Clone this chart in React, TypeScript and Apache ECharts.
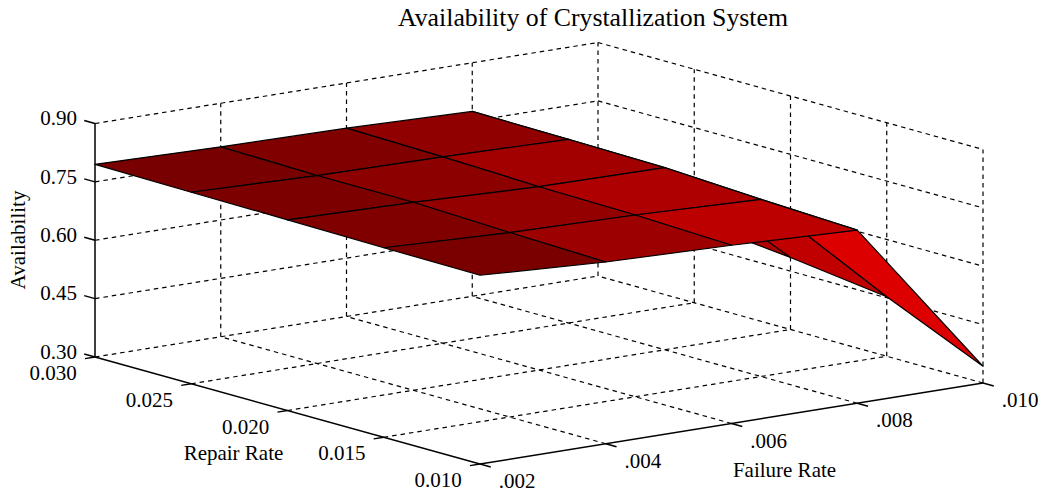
import React, { useEffect, useRef } from "react";
import * as echarts from "echarts";

const titleText = "Availability of Crystallization System";
const failureTicks = [0.002, 0.004, 0.006, 0.008, 0.01];
const repairTicks = [0.01, 0.015, 0.02, 0.025, 0.03];
const availabilityTicks = [0.3, 0.45, 0.6, 0.75, 0.9];
const failureLabels = [".002", ".004", ".006", ".008", ".010"];
const repairLabels = ["0.010", "0.015", "0.020", "0.025", "0.030"];
const availabilityLabels = ["0.30", "0.45", "0.60", "0.75", "0.90"];

// availability[repair index][failure index]
const availR010 = [0.785, 0.767, 0.758, 0.745, 0.343];
const availR015 = [0.787, 0.774, 0.767, 0.755, 0.453];
const availR020 = [0.79, 0.783, 0.771, 0.768, 0.485];
const availR025 = [0.792, 0.783, 0.779, 0.772, 0.51];
const availR030 = [0.795, 0.788, 0.784, 0.775, 0.525];
const availability = [availR010, availR015, availR020, availR025, availR030];

// facet colours, same indexing (lower-left node of the facet)
const shadeR010 = ["#7a0000", "#9c0000", "#bc0000", "#dc0000"];
const shadeR015 = ["#800000", "#940000", "#ae0000", "#c00000"];
const shadeR020 = ["#7c0000", "#8c0000", "#a20000", "#b00000"];
const shadeR025 = ["#780000", "#800000", "#900000", "#a00000"];
const shades = [shadeR010, shadeR015, shadeR020, shadeR025];

const ORIGIN = [480, 464];
const U_AXIS = [503, -81];
const V_AXIS = [-385, -107];
const Z_HEIGHT = 233.5;
const FONT = "'Liberation Serif', 'Times New Roman', serif";

const span = (a: number[]) => a[a.length - 1] - a[0];
const project = (f: number, r: number, z: number) => {
  const u = (f - failureTicks[0]) / span(failureTicks);
  const v = (r - repairTicks[0]) / span(repairTicks);
  const w = (z - availabilityTicks[0]) / span(availabilityTicks);
  return [
    ORIGIN[0] + U_AXIS[0] * u + V_AXIS[0] * v,
    ORIGIN[1] + U_AXIS[1] * u + V_AXIS[1] * v - Z_HEIGHT * w,
  ];
};

const fMin = failureTicks[0];
const fMax = failureTicks[4];
const rMin = repairTicks[0];
const rMax = repairTicks[4];
const zMin = availabilityTicks[0];
const zMax = availabilityTicks[4];

type Seg = number[];
const dashedSegments: Seg[] = [];
failureTicks.forEach((f) => {
  if (f !== fMin) {
    dashedSegments.push([f, rMin, zMin, f, rMax, zMin]);
    dashedSegments.push([f, rMax, zMin, f, rMax, zMax]);
  }
});
repairTicks.forEach((r) => {
  if (r !== rMin) dashedSegments.push([fMin, r, zMin, fMax, r, zMin]);
  if (r !== rMax) dashedSegments.push([fMax, r, zMin, fMax, r, zMax]);
});
availabilityTicks.forEach((z) => {
  if (z !== zMin) {
    dashedSegments.push([fMin, rMax, z, fMax, rMax, z]);
    dashedSegments.push([fMax, rMax, z, fMax, rMin, z]);
  }
});

const solidSegments: Seg[] = [
  [fMin, rMin, zMin, fMax, rMin, zMin],
  [fMin, rMin, zMin, fMin, rMax, zMin],
  [fMin, rMax, zMin, fMin, rMax, zMax],
];
const TICK_F = 0.02 * span(failureTicks);
const TICK_R = 0.028 * span(repairTicks);
failureTicks.forEach((f) => solidSegments.push([f, rMin, zMin, f, rMin - TICK_R, zMin]));
repairTicks.forEach((r) => solidSegments.push([fMin, r, zMin, fMin - TICK_F, r, zMin]));
availabilityTicks.forEach((z) => solidSegments.push([fMin, rMax, z, fMin, rMax + TICK_R, z]));

// painter's order: far facets first
const facets: number[][] = [];
for (let fi = 3; fi >= 0; fi--) {
  for (let ri = 3; ri >= 0; ri--) {
    facets.push([fi, ri]);
  }
}

function segmentSeries(data: Seg[], lineDash: number[] | null, lineWidth: number) {
  return {
    type: "custom",
    coordinateSystem: "none",
    silent: true,
    data,
    renderItem: (_p: any, api: any) => {
      const a = project(api.value(0), api.value(1), api.value(2));
      const b = project(api.value(3), api.value(4), api.value(5));
      return {
        type: "line",
        shape: { x1: a[0], y1: a[1], x2: b[0], y2: b[1] },
        style: { stroke: "#000", lineWidth, lineDash: lineDash || undefined, fill: null },
      };
    },
  };
}

function textSeries(
  data: number[][],
  labels: string[],
  dx: number,
  dy: number,
  align: string,
) {
  return {
    type: "custom",
    coordinateSystem: "none",
    silent: true,
    data,
    renderItem: (p: any, api: any) => {
      const a = project(api.value(0), api.value(1), api.value(2));
      return {
        type: "text",
        x: a[0] + dx,
        y: a[1] + dy,
        style: {
          text: labels[p.dataIndex],
          fill: "#000",
          font: `21px ${FONT}`,
          align,
          verticalAlign: "middle",
        },
      };
    },
  };
}

export default function App() {
  const ref = useRef<HTMLDivElement>(null);
  useEffect(() => {
    const chart = echarts.init(ref.current!, undefined, { renderer: "svg" });
    chart.setOption({
      animation: false,
      backgroundColor: "#fff",
      title: {
        text: titleText,
        left: 588,
        top: -1,
        textAlign: "center",
        textStyle: { fontFamily: FONT, fontSize: 25.8, fontWeight: "normal", color: "#000" },
      },
      series: [
        segmentSeries(dashedSegments, [4.5, 4], 1.2),
        segmentSeries(solidSegments, null, 1.5),
        {
          type: "custom",
          coordinateSystem: "none",
          silent: true,
          data: facets,
          renderItem: (_p: any, api: any) => {
            const fi = api.value(0);
            const ri = api.value(1);
            const node = (a: number, b: number) =>
              project(failureTicks[a], repairTicks[b], availability[b][a]);
            return {
              type: "polygon",
              shape: {
                points: [node(fi, ri), node(fi + 1, ri), node(fi + 1, ri + 1), node(fi, ri + 1)],
              },
              style: { fill: shades[ri][fi], stroke: "#000", lineWidth: 1.2, lineJoin: "round" },
            };
          },
        },
        textSeries(availabilityTicks.map((z) => [fMin, rMax, z]), availabilityLabels, -18, -5.2, "right"),
        textSeries(repairTicks.map((r) => [fMin, r, zMin]), repairLabels, -42, 16, "center"),
        textSeries(failureTicks.map((f) => [f, rMin, zMin]), failureLabels, 37, 17, "center"),
      ],
      graphic: [
        {
          type: "text",
          x: 18,
          y: 240,
          rotation: Math.PI / 2,
          style: {
            text: "Availability",
            font: `21px ${FONT}`,
            fill: "#000",
            align: "center",
            verticalAlign: "middle",
          },
        },
        {
          type: "text",
          x: 233.5,
          y: 453,
          style: {
            text: "Repair Rate",
            font: `21px ${FONT}`,
            fill: "#000",
            align: "center",
            verticalAlign: "middle",
          },
        },
        {
          type: "text",
          x: 784.5,
          y: 470,
          style: {
            text: "Failure Rate",
            font: `21px ${FONT}`,
            fill: "#000",
            align: "center",
            verticalAlign: "middle",
          },
        },
      ],
    });
    return () => chart.dispose();
  }, []);
  return (
    <div
      ref={ref}
      style={{ position: "absolute", left: 0, top: 0, width: 1040, height: 495 }}
    />
  );
}
